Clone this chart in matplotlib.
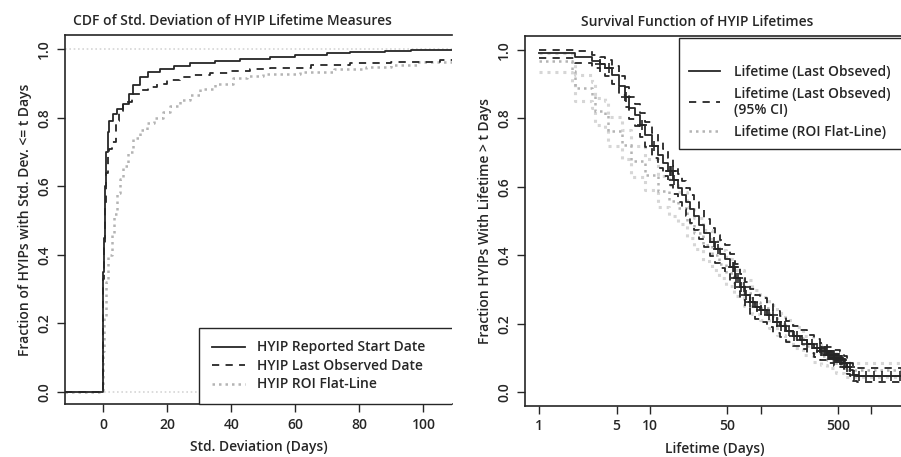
#------------------------------ CDF + survival of HYIP lifetimes ------------------------------
import numpy as np
import matplotlib.pyplot as plt
from matplotlib.lines import Line2D
from matplotlib.transforms import Bbox, TransformedBbox

plt.rcParams['font.family'] = ['Open Sans', 'DejaVu Sans']
plt.rcParams['font.weight'] = 'semibold'
plt.rcParams['axes.labelweight'] = 'semibold'

#------------------------------ DATA ------------------------------
# left panel: ECDF of std. deviation (step curves, x in days)
start_x = [-12, 0, 0.1, 0.3, 0.6, 1.0, 1.5, 2, 3, 4.5, 6.2, 8, 9.5, 11.5, 14, 17.8, 22, 27, 35, 42.7, 52, 60, 70, 77, 88, 96, 110]
start_y = [0, 0.30, 0.35, 0.45, 0.60, 0.70, 0.76, 0.79, 0.81, 0.825, 0.84, 0.87, 0.895, 0.918, 0.933, 0.944, 0.952, 0.959, 0.966, 0.972, 0.978, 0.984, 0.988, 0.993, 0.995, 0.998, 0.998]

last_x = [-12, 0, 0.1, 0.3, 0.6, 1.0, 1.5, 2.0, 2.7, 4, 5, 6.3, 9, 11.5, 14, 16.8, 20, 24, 28, 33.4, 40, 46, 52, 65, 77, 90, 105, 110]
last_y = [0, 0.28, 0.33, 0.42, 0.55, 0.64, 0.69, 0.71, 0.73, 0.79, 0.82, 0.847, 0.87, 0.88, 0.89, 0.90, 0.91, 0.918, 0.924, 0.93, 0.938, 0.944, 0.947, 0.953, 0.959, 0.964, 0.969, 0.972]

roi_x = [-12, 0, 0.3, 0.8, 1.5, 2.7, 3.5, 4.3, 5.3, 6.3, 7.9, 9.5, 11.5, 13.6, 16, 18.8, 21, 24, 27, 30.3, 35, 40.6, 45, 50, 61.5, 72, 82, 90, 98, 110]
roi_y = [0, 0.12, 0.22, 0.32, 0.40, 0.46, 0.52, 0.58, 0.62, 0.66, 0.70, 0.74, 0.765, 0.785, 0.80, 0.818, 0.835, 0.852, 0.868, 0.885, 0.90, 0.915, 0.922, 0.928, 0.935, 0.942, 0.949, 0.955, 0.962, 0.964]

# right panel: Kaplan-Meier survival (t in days)
km_t = [1, 2.1, 3.0, 3.5, 3.9, 4.5, 5.2, 5.9, 6.5, 7.3, 8.2, 9, 10.5, 11.9, 13, 14.6, 16.3, 18, 19.4, 21,
        23, 25, 28, 31, 35, 39, 43, 48, 53, 59, 65, 72, 80, 88, 98, 113, 130, 150, 170, 197,
        227, 260, 300, 344, 400, 460, 520, 560, 600, 643, 680, 736, 2100]
km_s = [0.99, 0.98, 0.966, 0.957, 0.947, 0.927, 0.895, 0.862, 0.83, 0.81, 0.78, 0.752, 0.72, 0.694, 0.67, 0.645, 0.62, 0.597, 0.577, 0.556,
        0.535, 0.515, 0.49, 0.465, 0.44, 0.418, 0.405, 0.39, 0.365, 0.335, 0.309, 0.285, 0.265, 0.25, 0.241, 0.225, 0.205, 0.193, 0.178, 0.165,
        0.154, 0.142, 0.13, 0.12, 0.11, 0.10, 0.095, 0.085, 0.075, 0.066, 0.052, 0.049, 0.049]
km_hi = [1.0, 0.995, 0.985, 0.978, 0.970, 0.952, 0.922, 0.892, 0.862, 0.843, 0.814, 0.788, 0.757, 0.732, 0.709, 0.685, 0.660, 0.638, 0.618, 0.597,
         0.576, 0.556, 0.531, 0.506, 0.481, 0.459, 0.446, 0.431, 0.405, 0.374, 0.347, 0.322, 0.301, 0.285, 0.275, 0.258, 0.237, 0.224, 0.208, 0.194,
         0.182, 0.169, 0.156, 0.145, 0.134, 0.123, 0.117, 0.106, 0.095, 0.085, 0.072, 0.070, 0.070]
km_lo = [0.975, 0.962, 0.946, 0.935, 0.923, 0.901, 0.867, 0.832, 0.798, 0.777, 0.746, 0.716, 0.683, 0.656, 0.631, 0.605, 0.580, 0.556, 0.536, 0.515,
         0.494, 0.474, 0.449, 0.424, 0.399, 0.377, 0.364, 0.349, 0.325, 0.296, 0.271, 0.248, 0.229, 0.215, 0.207, 0.192, 0.173, 0.162, 0.148, 0.136,
         0.126, 0.115, 0.104, 0.095, 0.086, 0.077, 0.073, 0.064, 0.055, 0.047, 0.033, 0.030, 0.030]
censor_t = [3.5, 4.3, 6.1, 8.4, 10.8, 15.2, 15.6, 16.0, 16.4, 38, 41, 56, 58, 60, 62, 66, 70, 74, 80, 86, 92, 100, 110, 118, 128,
            140, 152, 165, 180, 200, 215, 235, 260, 290, 320, 340, 350, 360, 370, 380, 388, 395, 403, 410, 418, 425, 433, 440,
            448, 455, 463, 470, 480, 490, 500, 510, 520, 530, 545, 560, 580, 600, 640, 700, 780, 900, 1050, 1250, 1500, 1800]

roi_t = [1, 1.96, 2.1, 2.97, 3.18, 3.9, 4.2, 5.55, 6.8, 9, 11.9, 15, 18, 21.5, 25, 30, 36, 42, 49, 58, 70, 83, 98.5, 118, 140, 165, 197, 240, 298, 350, 400, 480, 560, 2100]
roi_s = [0.966, 0.937, 0.888, 0.869, 0.82, 0.81, 0.762, 0.723, 0.674, 0.635, 0.587, 0.56, 0.538, 0.495, 0.465, 0.43, 0.40, 0.375, 0.35, 0.32, 0.29, 0.265, 0.245, 0.222, 0.20, 0.18, 0.16, 0.137, 0.115, 0.105, 0.095, 0.08, 0.065, 0.06]
roi_hi = [0.99, 0.965, 0.925, 0.905, 0.86, 0.85, 0.805, 0.767, 0.72, 0.68, 0.633, 0.606, 0.584, 0.54, 0.51, 0.475, 0.443, 0.417, 0.39, 0.358, 0.327, 0.3, 0.28, 0.256, 0.232, 0.211, 0.19, 0.165, 0.142, 0.131, 0.12, 0.1, 0.085, 0.08]
roi_lo = [0.935, 0.905, 0.85, 0.83, 0.78, 0.77, 0.72, 0.68, 0.63, 0.59, 0.54, 0.515, 0.492, 0.45, 0.42, 0.385, 0.357, 0.333, 0.31, 0.282, 0.253, 0.23, 0.21, 0.188, 0.168, 0.149, 0.13, 0.109, 0.09, 0.08, 0.07, 0.057, 0.045, 0.035]

surv_ticks = [1, 5, 10, 50, 100, 500, 1000]
surv_labels = ['1', '5', '10', '50', '', '500', '']
cdf_ticks = [0, 20, 40, 60, 80, 100]
frac_ticks = [0, 0.2, 0.4, 0.6, 0.8, 1.0]
frac_labels = ['0.0', '0.2', '0.4', '0.6', '0.8', '1.0']

#------------------------------ STYLE ------------------------------
INK = '#262626'
GRAY = '#b4b4b4'
LIGHT = '#d6d6d6'
DOT = (0, (1, 1.6))
DASH = (0, (4, 3.5))
FS = 10
W, H = 901, 457

def style_axes(ax):
    ax.spines['right'].set_visible(False)
    for s in ['left', 'top', 'bottom']:
        ax.spines[s].set_color(INK)
        ax.spines[s].set_linewidth(1.2)
    ax.tick_params(direction='out', length=6, width=1, color=INK, labelcolor=INK, labelsize=FS, pad=4)
    ax.set_yticks(frac_ticks)
    ax.set_yticklabels(frac_labels, rotation=90, va='center', fontweight='semibold')

fig = plt.figure(figsize=(W / 100, H / 100), dpi=100)

#------------------------------ LEFT: CDF ------------------------------
ax1 = fig.add_axes([65 / W, 1 - 404 / H, 387 / W, 369 / H])
ax1.axhline(0, color=LIGHT, ls=DOT, lw=1.2)
ax1.axhline(1, color=LIGHT, ls=DOT, lw=1.2)
ax1.step(roi_x, roi_y, where='post', color=GRAY, ls=DOT, lw=1.8)
ax1.step(last_x, last_y, where='post', color=INK, ls=DASH, lw=1.3)
ax1.step(start_x, start_y, where='post', color=INK, lw=1.3)
ax1.set_xlim(-11.86, 108.9)
ax1.set_ylim(-0.036, 1.042)
style_axes(ax1)
ax1.set_xticks(cdf_ticks)
ax1.set_xticklabels([str(v) for v in cdf_ticks], fontweight='semibold')
ax1.set_xlabel('Std. Deviation (Days)', fontsize=FS, color=INK, labelpad=6)
ax1.set_ylabel('Fraction of HYIPs with Std. Dev. <= t Days', fontsize=FS, color=INK, labelpad=4)

h1 = [Line2D([], [], color=INK, lw=1.3),
      Line2D([], [], color=INK, lw=1.3, ls=DASH),
      Line2D([], [], color=GRAY, lw=1.8, ls=DOT)]
lab1 = ['HYIP Reported Start Date', 'HYIP Last Observed Date', 'HYIP ROI Flat-Line']
leg1 = ax1.legend(h1, lab1, loc='upper left', mode='expand', fontsize=FS,
                  bbox_to_anchor=(199 / W, 1 - 328 / H, 270 / W, 0), bbox_transform=fig.transFigure,
                  borderaxespad=0, borderpad=0.9, labelspacing=0.32, handlelength=2.4,
                  handletextpad=0.9, fancybox=False, framealpha=1, edgecolor=INK)
leg1.get_frame().set_linewidth(1.0)
# the panel is cut off at the right, so is its legend box
leg1.get_frame().set_clip_box(TransformedBbox(Bbox([[0, 0], [452 / W, 1]]), fig.transFigure))
for t in leg1.get_texts():
    t.set_color(INK)

#------------------------------ RIGHT: survival ------------------------------
ax2 = fig.add_axes([525 / W, 1 - 405.5 / H, 380 / W, 369.5 / H])
ax2.set_xscale('log')
ax2.step(roi_t, roi_hi, where='post', color=LIGHT, ls=DOT, lw=2.2)
ax2.step(roi_t, roi_lo, where='post', color=LIGHT, ls=DOT, lw=2.2)
ax2.step(roi_t, roi_s, where='post', color=GRAY, ls=DOT, lw=1.8)
ax2.step(km_t, km_hi, where='post', color=INK, ls=DASH, lw=1.3)
ax2.step(km_t, km_lo, where='post', color=INK, ls=DASH, lw=1.3)
ax2.step(km_t, km_s, where='post', color=INK, lw=1.3)
idx = np.searchsorted(km_t, censor_t, side='right') - 1
ax2.plot(censor_t, np.array(km_s)[idx], ls='none', marker='+', ms=7.5, mew=1.2, color=INK)
ax2.set_xlim(0.743, 2012)
ax2.set_ylim(-0.038, 1.04)
style_axes(ax2)
ax2.set_xticks(surv_ticks)
ax2.set_xticklabels(surv_labels, fontweight='semibold')
ax2.minorticks_off()
ax2.set_xlabel('Lifetime (Days)', fontsize=FS, color=INK, labelpad=6)
ax2.set_ylabel('Fraction HYIPs With Lifetime > t Days', fontsize=FS, color=INK, labelpad=4)

h2 = [Line2D([], [], color=INK, lw=1.3),
      Line2D([], [], color=INK, lw=1.3, ls=DASH),
      Line2D([], [], color=GRAY, lw=1.8, ls=DOT)]
lab2 = ['Lifetime (Last Obseved)', 'Lifetime (Last Obseved)\n(95% CI)', 'Lifetime (ROI Flat-Line)']
leg2 = ax2.legend(h2, lab2, loc='upper left', mode='expand', fontsize=FS, title=' ', title_fontsize=6,
                  bbox_to_anchor=(679 / W, 1 - 38 / H, 260 / W, 0), bbox_transform=fig.transFigure,
                  borderaxespad=0, borderpad=0.75, labelspacing=0.55, handlelength=2.2,
                  handletextpad=1.0, fancybox=False, framealpha=1, edgecolor=INK)
leg2.get_frame().set_linewidth(1.0)
for t in leg2.get_texts():
    t.set_color(INK)

#------------------------------ TITLES ------------------------------
fig.text(232 / W, 1 - 21 / H, 'CDF of Std. Deviation of HYIP Lifetime Measures', ha='center', va='center',
         fontsize=FS, fontweight='semibold', color=INK)
fig.text(697 / W, 1 - 22 / H, 'Survival Function of HYIP Lifetimes', ha='center', va='center',
         fontsize=FS, fontweight='semibold', color=INK)

fig.savefig('out.png', dpi=100)
